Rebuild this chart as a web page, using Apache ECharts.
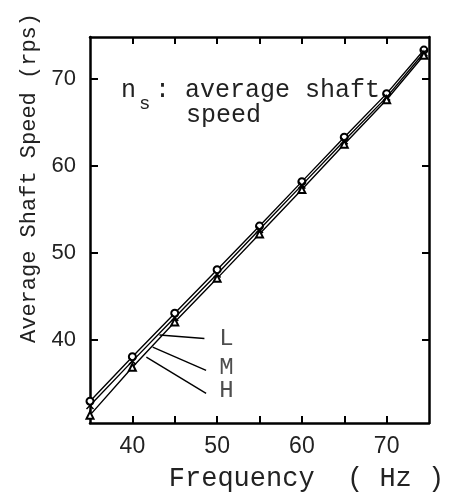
<!DOCTYPE html>
<html>
<head>
<meta charset="utf-8">
<script src="https://cdn.jsdelivr.net/npm/echarts@6/dist/echarts.min.js"></script>
<style>
html,body{margin:0;padding:0;background:#fff;}
#c{width:453px;height:504px;}
</style>
</head>
<body>
<div id="c"></div>
<script>
// ---- data ----
const freq   = [35, 40, 45, 50, 55, 60, 65, 70, 74.4];
const speedL = [33.0, 38.1, 43.1, 48.1, 53.1, 58.2, 63.3, 68.3, 73.3];
const speedM = [32.5, 37.6, 42.6, 47.6, 52.7, 57.8, 62.9, 67.9, 73.0];
const speedH = [31.4, 36.9, 42.1, 47.1, 52.2, 57.3, 62.5, 67.6, 72.7];
const seriesNames = ['L', 'M', 'H'];
const xTickValues = [40, 45, 50, 55, 60, 65, 70];
const xLabelValues = [40, 50, 60, 70];
const yTickValues = [40, 50, 60, 70];
const xTitle = 'Frequency  ( Hz )';
const yTitle = 'Average Shaft Speed (rps)';

// annotation pointer lines (data coords) and label anchors
const pointerFrom = [[43.2, 40.6], [42.4, 39.2], [41.65, 38.05]];
const pointerTo   = [[48.5, 40.2], [48.7, 36.55], [48.7, 33.9]];
const labelAt     = [[51.1, 40.2], [51.1, 36.9], [51.1, 34.2]];

const mono = '"Liberation Mono", "DejaVu Sans Mono", monospace';
const sans = '"Liberation Sans", Arial, sans-serif';

const pairs = arr => freq.map((f, i) => [f, arr[i]]);

const lineBase = {
  type: 'line',
  lineStyle: { color: '#000', width: 1.4 },
  symbolSize: 7,
  z: 3
};

const chart = echarts.init(document.getElementById('c'), null, { renderer: 'canvas' });
chart.setOption({
  animation: false,
  backgroundColor: '#fff',
  grid: { left: 90, right: 24, top: 37, bottom: 81 },
  xAxis: [{
    type: 'value', min: 35, max: 75, position: 'bottom',
    axisLine: { show: true, onZero: false, lineStyle: { color: '#000', width: 2.5 } },
    axisTick: { show: true, inside: true, length: 7, customValues: xTickValues, lineStyle: { color: '#000', width: 2 } },
    axisLabel: { show: true, customValues: xLabelValues, margin: 12, fontSize: 23, fontFamily: sans, color: '#222' },
    splitLine: { show: false },
    name: xTitle, nameLocation: 'middle', nameGap: 42,
    nameTextStyle: { fontSize: 27, fontFamily: mono, color: '#222', padding: [0, 0, 0, 94] }
  }, {
    type: 'value', min: 35, max: 75, position: 'top',
    axisLine: { show: true, onZero: false, lineStyle: { color: '#000', width: 2.5 } },
    axisTick: { show: true, inside: true, length: 7, customValues: xTickValues, lineStyle: { color: '#000', width: 2 } },
    axisLabel: { show: false },
    splitLine: { show: false }
  }],
  yAxis: [{
    type: 'value', min: 30.5, max: 74.8, position: 'left',
    axisLine: { show: true, onZero: false, lineStyle: { color: '#000', width: 2.5 } },
    axisTick: { show: true, inside: true, length: 8, customValues: yTickValues, lineStyle: { color: '#000', width: 2 } },
    axisLabel: { show: true, customValues: yTickValues, margin: 14, fontSize: 22, fontFamily: sans, color: '#222' },
    splitLine: { show: false },
    name: yTitle, nameLocation: 'middle', nameGap: 47, nameRotate: 90,
    nameTextStyle: { fontSize: 22, fontFamily: mono, color: '#222', padding: [0, 0, 0, 104] }
  }, {
    type: 'value', min: 30.5, max: 74.8, position: 'right',
    axisLine: { show: true, onZero: false, lineStyle: { color: '#000', width: 2.5 } },
    axisTick: { show: true, inside: true, length: 7, customValues: yTickValues, lineStyle: { color: '#000', width: 2 } },
    axisLabel: { show: false },
    splitLine: { show: false }
  }],
  series: [
    Object.assign({}, lineBase, {
      name: seriesNames[0], data: pairs(speedL),
      symbol: 'emptyCircle', itemStyle: { color: '#000', borderWidth: 1.3 },
      markLine: {
        silent: true, symbol: 'none', label: { show: false },
        lineStyle: { color: '#000', width: 1.4, type: 'solid' },
        data: pointerFrom.map((p, i) => [{ coord: p }, { coord: pointerTo[i] }])
      }
    }),
    Object.assign({}, lineBase, {
      name: seriesNames[1], data: pairs(speedM),
      symbol: 'path://M0,0L10,10M10,0L0,10',
      itemStyle: { color: 'transparent', borderColor: '#000', borderWidth: 1.5 }
    }),
    Object.assign({}, lineBase, {
      name: seriesNames[2], data: pairs(speedH),
      symbol: 'emptyTriangle', itemStyle: { color: '#000', borderWidth: 1.3 }
    }),
    {
      type: 'scatter', name: 'labels', symbolSize: 0, silent: true,
      data: labelAt.map((p, i) => [p[0], p[1], seriesNames[i]]),
      label: {
        show: true, position: 'inside', formatter: p => p.value[2],
        fontSize: 24, fontFamily: mono, color: '#222'
      }
    }
  ],
  graphic: [
    { type: 'text', x: 121, y: 90, style: { text: 'n', fontSize: 25, fontFamily: mono, fill: '#222', verticalAlign: 'middle' } },
    { type: 'text', x: 139, y: 104, style: { text: 's', fontSize: 19, fontFamily: mono, fill: '#222', verticalAlign: 'middle' } },
    { type: 'text', x: 155, y: 90, style: { text: ': average shaft', fontSize: 25, fontFamily: mono, fill: '#222', verticalAlign: 'middle' } },
    { type: 'text', x: 186, y: 115, style: { text: 'speed', fontSize: 25, fontFamily: mono, fill: '#222', verticalAlign: 'middle' } }
  ]
});
</script>
</body>
</html>
